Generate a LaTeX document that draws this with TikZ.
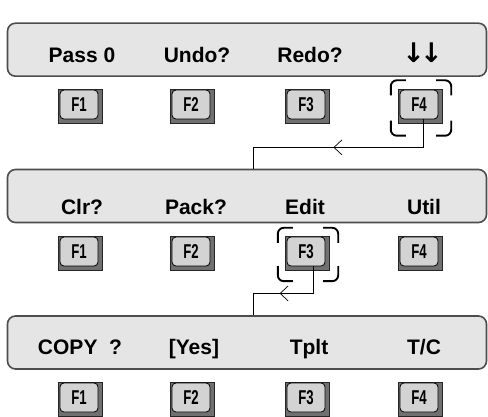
\documentclass[tikz,border=0pt]{standalone}
\usepackage{fontspec}
\setmainfont{Liberation Sans}
\newfontfamily\keyfont[FakeStretch=0.66]{Liberation Sans}
\newfontfamily\arrowfont{DejaVu Sans}
\usetikzlibrary{
  positioning,
  arrows.meta,
  calc,
  decorations.markings
}
\definecolor{lcd}{HTML}{E5E5E5}
\definecolor{bezel}{HTML}{4D4D4D}
\definecolor{keyface}{HTML}{D3D3D3}
\definecolor{keyside}{HTML}{707070}

\begin{document}
\begin{tikzpicture}[
  x=1pt, y=-1pt,
  panel/.style={draw=bezel, fill=lcd, line width=1.6pt, rounded corners=8pt,
                minimum width=479pt, minimum height=53pt, inner sep=0pt},
  softlabel/.style={anchor=base, inner sep=0pt,
                    font=\fontsize{21}{21}\selectfont\bfseries},
  keybase/.style={draw=black!85, fill=keyside, line width=0.5pt,
                  minimum width=44pt, minimum height=34pt, inner sep=0pt},
  keytop/.style={draw=black, fill=keyface, line width=0.8pt, rounded corners=4pt,
                 minimum width=38pt, minimum height=29pt, inner sep=0pt,
                 font=\keyfont\bfseries\fontsize{20}{20}\selectfont},
  selbox/.style={minimum width=60pt, minimum height=55pt, inner sep=0pt},
  corner/.style={line width=1.9pt, rounded corners=6pt},
  link/.style={line width=0.7pt, postaction={decorate},
    decoration={markings, mark=at position #1 with
      {\arrow{Straight Barb[length=8pt, width=15pt, line width=0.7pt]}}}},
]
  \useasboundingbox (0,0) rectangle (488,417);

  % display panels
  \node[panel] (p1) at (247,49.7) {};
  \node[panel] (p2) at (247,196) {};
  \node[panel] (p3) at (247,342.5) {};

  \node[softlabel] (t11) at (82,63) {Pass 0};
  \node[softlabel] (t12) at (197,63) {Undo?};
  \node[softlabel] (t13) at (310,63) {Redo?};
  \node[softlabel] (t14) at (423,63) {\arrowfont\bfseries\fontsize{27}{27}\selectfont\kern-1pt↓\kern-5pt↓};

  \node[softlabel] (t21) at (82,215) {Clr?};
  \node[softlabel] (t22) at (196,215) {Pack?};
  \node[softlabel] (t23) at (305,215) {Edit};
  \node[softlabel] (t24) at (424,215) {Util};

  \node[softlabel] (t31) at (80,355) {COPY~~?};
  \node[softlabel] (t32) at (194,355) {[Yes]};
  \node[softlabel] (t33) at (309,355) {Tplt};
  \node[softlabel] (t34) at (424,355) {T/C};

  % function keys
  \foreach \r/\y in {1/106,2/253,3/399}
    \foreach \c/\x in {1/80,2/192,3/307,4/420} {
      \node[keybase] (kb\r\c) at (\x,\y) {};
      \node[keytop] (k\r\c) at (\x-1,\y-1.5) {F\c};
    }

  % selected keys
  \node[selbox] (s1) at ([shift={(1,2)}]kb14) {};
  \node[selbox, minimum height=53pt] (s2) at ([shift={(1,1.5)}]kb23) {};
  \foreach \s in {s1,s2} {
    \draw[corner] ($(\s.north west)+(0,15)$) -- (\s.north west) -- ($(\s.north west)+(15,0)$);
    \draw[corner] ($(\s.north east)+(-15,0)$) -- (\s.north east) -- ($(\s.north east)+(0,15)$);
    \draw[corner] ($(\s.south east)+(0,-15)$) -- (\s.south east) -- ($(\s.south east)+(-15,0)$);
    \draw[corner] ($(\s.south west)+(15,0)$) -- (\s.south west) -- ($(\s.south west)+(0,-15)$);
  }

  % menu links
  \draw[link=0.536] ([xshift=4pt]k14.south) -- ++(0,28) -| ([xshift=6pt]p2.north);
  \draw[link=0.555] ([xshift=7pt]k23.south) -- ++(0,27) -| ([xshift=6pt]p3.north);
\end{tikzpicture}
\end{document}
